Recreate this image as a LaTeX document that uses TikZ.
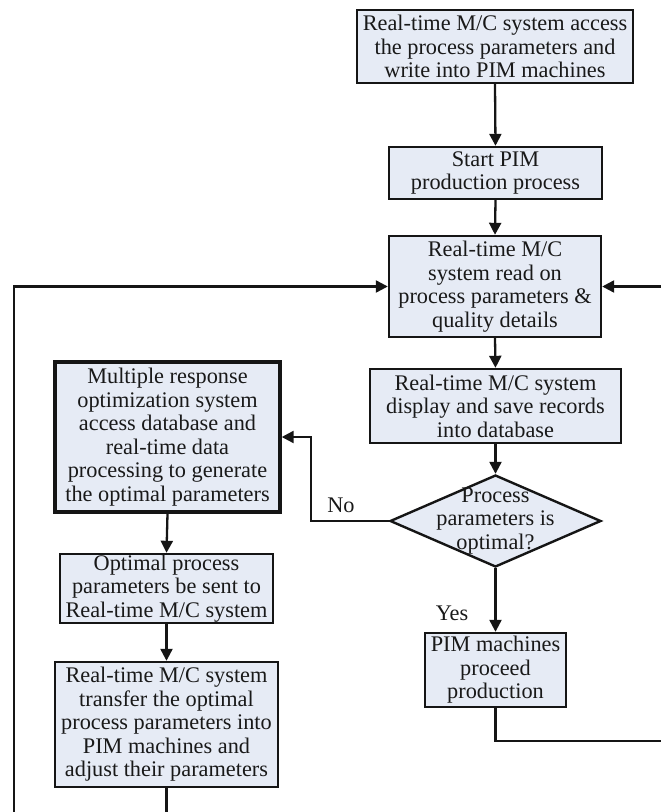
\documentclass[tikz,border=0pt]{standalone}
\usepackage{fontspec}
\setmainfont{Liberation Serif}
\usetikzlibrary{arrows.meta,shapes.geometric}
\definecolor{boxfill}{HTML}{E6EBF5}
\definecolor{edgecol}{HTML}{151515}
\begin{document}
\begin{tikzpicture}[x=1pt,y=-1pt,
  box/.style={draw=edgecol, line width=2.4pt, fill=boxfill, align=center, inner sep=0pt,
    text=black!90, font=\fontsize{22.3}{23.5}\selectfont},
  arr/.style={line width=2.3pt, draw=edgecol, -{Triangle[length=12pt,width=12pt]}},
  lbl/.style={font=\fontsize{22.3}{23.5}\selectfont, text=black!90, inner sep=0pt}]
\useasboundingbox (0,0) rectangle (661,812);
\clip (0,0) rectangle (661,812);

\node[box, minimum width=276pt, minimum height=73pt] (b1) at (495,46.5)
  {Real-time M/C system access\\the process parameters and\\write into PIM machines};
\node[box, minimum width=213pt, minimum height=52pt] (b2) at (495.5,173)
  {Start PIM\\production process};
\node[box, minimum width=212pt, minimum height=101pt] (b3) at (495,286.5)
  {Real-time M/C\\system read on\\process parameters \&\\quality details};
\node[box, minimum width=251pt, minimum height=74pt] (b4) at (495.5,406)
  {Real-time M/C system\\display and save records\\into database};
\node[draw=edgecol, line width=2.4pt, fill=boxfill, diamond, inner sep=0pt,
  minimum width=211pt, minimum height=92pt] (d) at (495.5,521) {};
\node[lbl, align=center] (dt) at (d.center) {Process\\parameters is\\optimal?};
\node[box, minimum width=141pt, minimum height=74pt] (b8) at (495.5,670)
  {PIM machines\\proceed\\production};
\node[box, line width=3.4pt, minimum width=225pt, minimum height=150pt] (b5) at (167.5,437)
  {Multiple response\\optimization system\\access database and\\real-time data\\processing to generate\\the optimal parameters};
\node[box, minimum width=213pt, minimum height=69pt] (b6) at (166.5,588.5)
  {Optimal process\\parameters be sent to\\Real-time M/C system};
\node[box, minimum width=223pt, minimum height=125pt] (b7) at (166.5,724.5)
  {Real-time M/C system\\transfer the optimal\\process parameters into\\PIM machines and\\adjust their parameters};

\node[lbl] (no) at (341,505) {No};
\node[lbl] (yes) at (452,613) {Yes};

\coordinate (nc) at (311,521);
\coordinate (lb) at (14,830);
\coordinate (rc) at (664,741);

\draw[arr] (b1.south) -- (b2.north);
\draw[arr] (b2.south) -- (b3.north);
\draw[arr] (b3.south) -- (b4.north);
\draw[arr] (b4.south) -- (d.north);
\draw[arr] (d.south) -- (b8.north);
\draw[arr] (d.west) -- (nc) |- (b5.east);
\draw[arr] (b5.south) -- (b6.north);
\draw[arr] (b6.south) -- (b7.north);
\draw[arr] (b7.south) |- (lb) |- (b3.west);
\draw[arr] (b8.south) |- (rc) |- (b3.east);
\end{tikzpicture}
\end{document}
